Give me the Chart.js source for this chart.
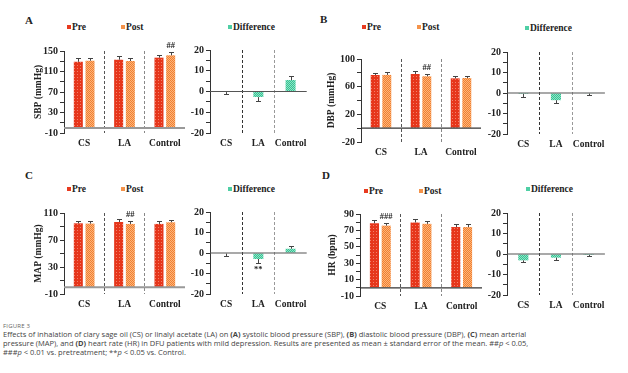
<!DOCTYPE html>
<html>
<head>
<meta charset="utf-8">
<script src="https://cdn.jsdelivr.net/npm/chart.js@4/dist/chart.umd.min.js"></script>
<style>
  body { margin: 0; background: #fff; }
  #fig { position: relative; width: 628px; height: 373px; overflow: hidden; font-family: 'Liberation Serif', serif; color: #222; }
  #fig canvas { position: absolute; }
  .panel { position: absolute; font-weight: bold; font-size: 11px; line-height: 12px; }
  .leg { position: absolute; font-family: 'Liberation Serif', serif; font-weight: bold; font-size: 9.5px; line-height: 10px; white-space: nowrap; }
  .leg i { display: inline-block; width: 4px; height: 4px; margin-right: 1px; vertical-align: 1px; }
  .cap { position: absolute; left: 3px; font-family: 'Open Sans', sans-serif; color: #444; white-space: nowrap; }
  .fignum { top: 322px; font-size: 6px; letter-spacing: 0.2px; color: #666; }
  .capline { font-size: 7.5px; line-height: 9px; top: 330px; }
</style>
</head>
<body>
<div id="fig">
  <div class="panel" style="left:25px;top:14px">A</div>
  <div class="panel" style="left:320px;top:13px">B</div>
  <div class="panel" style="left:25px;top:169px">C</div>
  <div class="panel" style="left:322px;top:169px">D</div>

  <div class="leg" style="left:67px;top:22px"><i style="background:#e83a1f"></i>Pre</div>
  <div class="leg" style="left:121px;top:22px"><i style="background:#f5934a"></i>Post</div>
  <div class="leg" style="left:228px;top:22px"><i style="background:#4fcfa5"></i>Difference</div>
  <div class="leg" style="left:362px;top:22px"><i style="background:#e83a1f"></i>Pre</div>
  <div class="leg" style="left:417px;top:22px"><i style="background:#f5934a"></i>Post</div>
  <div class="leg" style="left:525px;top:23px"><i style="background:#4fcfa5"></i>Difference</div>
  <div class="leg" style="left:67px;top:184px"><i style="background:#e83a1f"></i>Pre</div>
  <div class="leg" style="left:121px;top:184px"><i style="background:#f5934a"></i>Post</div>
  <div class="leg" style="left:228px;top:184px"><i style="background:#4fcfa5"></i>Difference</div>
  <div class="leg" style="left:364px;top:186px"><i style="background:#e83a1f"></i>Pre</div>
  <div class="leg" style="left:419px;top:186px"><i style="background:#f5934a"></i>Post</div>
  <div class="leg" style="left:526px;top:184px"><i style="background:#4fcfa5"></i>Difference</div>

  <div class="cap fignum">FIGURE 3</div>
  <div class="cap capline">Effects of inhalation of clary sage oil (CS) or linalyl acetate (LA) on <b>(A)</b> systolic blood pressure (SBP), <b>(B)</b> diastolic blood pressure (DBP), <b>(C)</b> mean arterial<br>pressure (MAP), and <b>(D)</b> heart rate (HR) in DFU patients with mild depression. Results are presented as mean ± standard error of the mean. ##<i>p</i> &lt; 0.05,<br>###<i>p</i> &lt; 0.01 vs. pretreatment; **<i>p</i> &lt; 0.05 vs. Control.</div>
</div>
<script>
const groups = ["CS", "LA", "Control"];

// A - SBP
const sbpPre = [129, 133, 137];
const sbpPreErr = [6.5, 7, 6];
const sbpPost = [131, 130.5, 141.6];
const sbpPostErr = [5, 5.5, 6.4];
const sbpDiff = [-0.3, -2.7, 5.5];
const sbpDiffErr = [1.1, 2.1, 2.1];

// B - DBP
const dbpPre = [76.9, 78.3, 72];
const dbpPreErr = [3.3, 3.7, 4];
const dbpPost = [77, 75, 72.5];
const dbpPostErr = [3.5, 2.9, 3.5];
const dbpDiff = [-0.5, -3.5, -0.3];
const dbpDiffErr = [1.6, 1.5, 0.6];

// C - MAP
const mapPre = [94.7, 96.7, 93.8];
const mapPreErr = [3.9, 3.9, 3.9];
const mapPost = [94.3, 93.8, 96.2];
const mapPostErr = [4.3, 3.9, 3.4];
const mapDiff = [-0.3, -2.9, 2.1];
const mapDiffErr = [1.3, 2, 1.5];

// D - HR
const hrPre = [78.7, 79.6, 74.1];
const hrPreErr = [4, 4.1, 3.7];
const hrPost = [75.8, 78, 74.1];
const hrPostErr = [3.6, 4, 3.7];
const hrDiff = [-3.1, -1.8, -0.5];
const hrDiffErr = [1, 1.3, 0.6];

// significance marks: [dataset, category, text]
const sbpMarks = [[1, 2, "##"]];
const dbpMarks = [[1, 1, "##"]];
const mapMarks = [[1, 1, "##"]];
const mapDiffMarks = [[0, 1, "**"]];
const hrMarks = [[1, 0, "###"]];

Chart.defaults.font.family = "'Liberation Serif', serif";
Chart.defaults.color = "#222";

function pattern(base, light, kind) {
  const c = document.createElement("canvas");
  const n = kind === "dots" ? 3 : 2;
  c.width = n; c.height = n;
  const g = c.getContext("2d");
  g.fillStyle = base;
  g.fillRect(0, 0, n, n);
  g.fillStyle = light;
  if (kind === "dots") {
    g.fillRect(1, 1, 1, 1);
  } else {
    g.fillRect(0, 0, 1, 1);
    g.fillRect(1, 1, 1, 1);
  }
  return g.createPattern(c, "repeat");
}

const preFill = pattern("#e6361b", "#f3806a", "dots");
const postFill = pattern("#f2802f", "#fbb47c", "check");
const diffFill = pattern("#35c493", "#8fe2c6", "check");

const refLines = {
  id: "refLines",
  afterDatasetsDraw(chart, args, opts) {
    const { ctx, chartArea, scales: { y } } = chart;
    const zy = y.getPixelForValue(0);
    ctx.save();
    ctx.strokeStyle = opts.zeroColor;
    ctx.lineWidth = opts.zeroWidth;
    ctx.beginPath();
    ctx.moveTo(chartArea.left, zy);
    ctx.lineTo(chartArea.right, zy);
    ctx.stroke();

    ctx.strokeStyle = "#444";
    ctx.lineWidth = 1;
    chart.data.datasets.forEach((ds, di) => {
      const meta = chart.getDatasetMeta(di);
      ds.data.forEach((v, i) => {
        const bar = meta.data[i];
        const end = v < 0 ? v - ds.errors[i] : v + ds.errors[i];
        const x = Math.round(bar.x) + 0.5;
        const y1 = y.getPixelForValue(v);
        const y2 = Math.round(y.getPixelForValue(end)) + 0.5;
        ctx.beginPath();
        ctx.moveTo(x, y1);
        ctx.lineTo(x, y2);
        ctx.moveTo(x - 2.5, y2);
        ctx.lineTo(x + 2.5, y2);
        ctx.stroke();
      });
    });

    ctx.fillStyle = "#222";
    ctx.font = "bold 8.5px 'Liberation Serif', serif";
    ctx.textAlign = "center";
    (opts.marks || []).forEach(([di, i, text]) => {
      const ds = chart.data.datasets[di];
      const v = ds.data[i];
      const x = chart.getDatasetMeta(di).data[i].x;
      if (v >= 0) {
        ctx.textBaseline = "bottom";
        ctx.fillText(text, x, y.getPixelForValue(v + ds.errors[i]) - 2);
      } else {
        ctx.textBaseline = "top";
        ctx.fillText(text, x, y.getPixelForValue(v - ds.errors[i]) + 3);
      }
    });
    ctx.restore();
  }
};

const fig = document.getElementById("fig");

function makeChart(p) {
  const padTop = 14, padRight = 4, xh = 20;
  const cx = p.L - p.yw, cy = p.T - padTop;
  const w = p.R + padRight - cx, h = p.B + xh - cy;
  const canvas = document.createElement("canvas");
  canvas.width = w; canvas.height = h;
  canvas.style.left = cx + "px"; canvas.style.top = cy + "px";
  canvas.style.width = w + "px"; canvas.style.height = h + "px";
  fig.appendChild(canvas);

  return new Chart(canvas, {
    type: "bar",
    data: { labels: groups, datasets: p.datasets },
    options: {
      responsive: false,
      animation: false,
      layout: { padding: { top: padTop, right: padRight, left: 0, bottom: 0 } },
      plugins: {
        legend: { display: false },
        tooltip: { enabled: false },
        refLines: { zeroColor: p.zeroColor, zeroWidth: p.zeroWidth, marks: p.marks }
      },
      scales: {
        x: {
          afterFit: (s) => { s.height = xh; },
          grid: {
            offset: true,
            drawTicks: false,
            lineWidth: 1,
            color: (c) => p.lines[c.index] || "transparent"
          },
          border: { display: false, dash: [3, 2] },
          ticks: {
            padding: 5,
            autoSkip: false,
            maxRotation: 0,
            minRotation: 0,
            color: "#222",
            font: { size: 9.5, weight: "bold" }
          }
        },
        y: {
          min: p.min,
          max: p.max,
          afterFit: (s) => { s.width = p.yw; },
          ticks: {
            stepSize: p.step,
            autoSkip: false,
            padding: 2,
            color: "#222",
            font: { size: 10, weight: "bold" },
            callback: (v) => ((v - p.min) % p.labelEvery === 0 ? v : "")
          },
          grid: { drawOnChartArea: false, drawTicks: true, tickLength: 4, color: "#333" },
          border: { color: "#333", width: 1 },
          title: p.title
            ? { display: true, text: p.title, color: "#222", font: { size: 9.5, weight: "bold" }, padding: { top: p.titlePad, bottom: 0 } }
            : { display: false }
        }
      }
    },
    plugins: [refLines]
  });
}

function prePost(pre, preErr, post, postErr) {
  return [
    { label: "Pre", data: pre, errors: preErr, backgroundColor: preFill, barPercentage: 0.77, categoryPercentage: 0.58 },
    { label: "Post", data: post, errors: postErr, backgroundColor: postFill, barPercentage: 0.77, categoryPercentage: 0.58 }
  ];
}

function diff(values, errs) {
  return [{ label: "Difference", data: values, errors: errs, backgroundColor: diffFill, barPercentage: 0.31, categoryPercentage: 1 }];
}

const leftLines = [null, "#555", "#888", "#aaa"];
const rightLines = [null, "#333", "#999", "#666"];

// A
makeChart({ L: 64, T: 51, R: 185, B: 133, yw: 60, title: "SBP (mmHg)", titlePad: 29,
  min: -10, max: 150, step: 20, labelEvery: 40, datasets: prePost(sbpPre, sbpPreErr, sbpPost, sbpPostErr),
  zeroColor: "#999", zeroWidth: 2, lines: leftLines, marks: sbpMarks });
makeChart({ L: 210, T: 50, R: 308, B: 133, yw: 24,
  min: -20, max: 20, step: 5, labelEvery: 10, datasets: diff(sbpDiff, sbpDiffErr),
  zeroColor: "#555", zeroWidth: 1.2, lines: rightLines, marks: [] });

// B
makeChart({ L: 361, T: 59, R: 481, B: 142, yw: 60, title: "DBP (mmHg)", titlePad: 25,
  min: -20, max: 100, step: 20, labelEvery: 40, datasets: prePost(dbpPre, dbpPreErr, dbpPost, dbpPostErr),
  zeroColor: "#333", zeroWidth: 1.2, lines: leftLines, marks: dbpMarks });
makeChart({ L: 507, T: 52, R: 606, B: 134, yw: 24,
  min: -20, max: 20, step: 5, labelEvery: 10, datasets: diff(dbpDiff, dbpDiffErr),
  zeroColor: "#555", zeroWidth: 1.2, lines: rightLines, marks: [] });

// C
makeChart({ L: 64, T: 213, R: 185, B: 294, yw: 60, title: "MAP (mmHg)", titlePad: 29,
  min: -10, max: 110, step: 20, labelEvery: 40, datasets: prePost(mapPre, mapPreErr, mapPost, mapPostErr),
  zeroColor: "#999", zeroWidth: 2, lines: leftLines, marks: mapMarks });
makeChart({ L: 210, T: 212, R: 308, B: 294, yw: 24,
  min: -20, max: 20, step: 5, labelEvery: 10, datasets: diff(mapDiff, mapDiffErr),
  zeroColor: "#555", zeroWidth: 1.2, lines: rightLines, marks: mapDiffMarks });

// D
makeChart({ L: 360, T: 214, R: 482, B: 296, yw: 60, title: "HR (bpm)", titlePad: 27,
  min: -10, max: 90, step: 10, labelEvery: 20, datasets: prePost(hrPre, hrPreErr, hrPost, hrPostErr),
  zeroColor: "#333", zeroWidth: 1.2, lines: leftLines, marks: hrMarks });
makeChart({ L: 507, T: 213, R: 606, B: 295, yw: 24,
  min: -20, max: 20, step: 5, labelEvery: 10, datasets: diff(hrDiff, hrDiffErr),
  zeroColor: "#555", zeroWidth: 1.2, lines: rightLines, marks: [] });
</script>
</body>
</html>
